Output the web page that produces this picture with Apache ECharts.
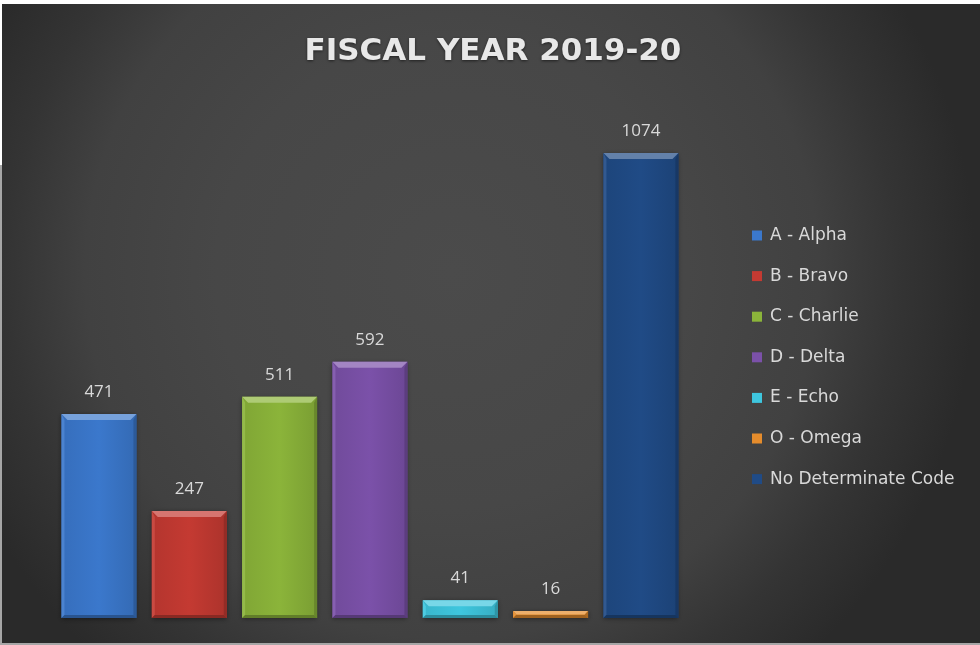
<!DOCTYPE html>
<html>
<head>
<meta charset="utf-8">
<script src="https://cdn.jsdelivr.net/npm/echarts@6/dist/echarts.min.js"></script>
<style>
  html, body { margin: 0; padding: 0; background: #ffffff; }
  #frame { position: absolute; left: 0; top: 0; width: 980px; height: 645px; background: #ffffff; }
  #edgeL { position: absolute; left: 0; top: 165px; width: 2px; height: 480px; background: #a6a6a6; }
  #edgeB { position: absolute; left: 0; top: 643px; width: 980px; height: 2px; background: #a6a6a6; }
  #chart { position: absolute; left: 2px; top: 4px; width: 978px; height: 639px; }
</style>
</head>
<body>
<div id="frame"></div>
<div id="chart"></div>
<div id="edgeL"></div>
<div id="edgeB"></div>
<script>
// Fiscal year 2019-20 counts per determinate code
const categories = ['A - Alpha', 'B - Bravo', 'C - Charlie', 'D - Delta', 'E - Echo', 'O - Omega', 'No Determinate Code'];
const counts = [471, 247, 511, 592, 41, 16, 1074];
const barColors = ['#3b78cc', '#c43a32', '#8bb43a', '#7b51a9', '#3ec6de', '#e58c2c', '#204b86'];

const chart = echarts.init(document.getElementById('chart'));

function shade(hex, amt) {
  const n = parseInt(hex.slice(1), 16);
  let r = (n >> 16) & 255, g = (n >> 8) & 255, b = n & 255;
  const f = c => Math.max(0, Math.min(255, Math.round(amt >= 0 ? c + (255 - c) * amt : c * (1 + amt))));
  return 'rgb(' + f(r) + ',' + f(g) + ',' + f(b) + ')';
}

// bevelled bar drawn from the category index and value through the axes
function bevelBar(color) {
  return function (params, api) {
    const idx = api.value(0);
    const val = api.value(1);
    const top = api.coord([idx, val]);
    const base = api.coord([idx, 0]);
    const w = api.size([1, 0])[0] * 0.83;
    const x0 = top[0] - w / 2, x1 = top[0] + w / 2;
    const y0 = top[1], y1 = base[1];
    const h = y1 - y0;
    const bt = Math.min(6, h / 2);
    const bs = Math.min(3, h / 2);
    return {
      type: 'group',
      children: [
        { type: 'rect', shape: { x: x0, y: y0, width: w, height: h },
          style: { fill: new echarts.graphic.LinearGradient(0, 0, 1, 0, [
            { offset: 0, color: shade(color, -0.08) },
            { offset: 0.5, color: color },
            { offset: 1, color: shade(color, -0.12) }
          ]), shadowColor: 'rgba(0,0,0,0.45)', shadowBlur: 5, shadowOffsetY: 1 } },
        { type: 'polygon', shape: { points: [[x0, y0], [x1, y0], [x1 - bt, y0 + bt], [x0 + bt, y0 + bt]] },
          style: { fill: shade(color, 0.3) } },
        { type: 'polygon', shape: { points: [[x0, y0], [x0 + bs, y0 + bt], [x0 + bs, y1 - bs], [x0, y1]] },
          style: { fill: shade(color, 0.08) } },
        { type: 'polygon', shape: { points: [[x1, y0], [x1 - bs, y0 + bt], [x1 - bs, y1 - bs], [x1, y1]] },
          style: { fill: shade(color, -0.25) } },
        { type: 'polygon', shape: { points: [[x0, y1], [x1, y1], [x1 - bs, y1 - bs], [x0 + bs, y1 - bs]] },
          style: { fill: shade(color, -0.3) } },
        { type: 'text', style: {
            text: String(val), x: top[0], y: y0 - 22, align: 'center', verticalAlign: 'middle',
            fill: '#d9d9d9', font: '17px "Open Sans", sans-serif' } }
      ]
    };
  };
}

const series = categories.map((name, i) => ({
  name: name,
  type: 'custom',
  itemStyle: { color: barColors[i] },
  renderItem: bevelBar(barColors[i]),
  encode: { x: 0, y: 1 },
  data: [[i, counts[i]]]
}));

chart.setOption({
  backgroundColor: new echarts.graphic.RadialGradient(0.46, 0.42, 0.82, [
    { offset: 0, color: '#4b4b4b' },
    { offset: 0.45, color: '#474747' },
    { offset: 0.7, color: '#414141' },
    { offset: 0.85, color: '#343434' },
    { offset: 1, color: '#2a2a2a' }
  ]),
  title: {
    text: 'FISCAL YEAR 2019-20',
    left: 486,
    textAlign: 'center',
    top: 27,
    textStyle: {
      color: '#e8e8e8', fontSize: 31, fontWeight: 'bold', fontFamily: '"DejaVu Sans", sans-serif',
      textShadowColor: 'rgba(0,0,0,0.55)', textShadowBlur: 3, textShadowOffsetY: 1
    }
  },
  legend: {
    orient: 'vertical',
    left: 750,
    top: 223,
    padding: 0,
    icon: 'rect',
    itemWidth: 10,
    itemHeight: 10,
    itemGap: 23.6,
    textStyle: { color: '#d9d9d9', fontSize: 17, lineHeight: 16, padding: [0, 0, 0, 3], fontFamily: '"DejaVu Sans", sans-serif' },
    data: categories
  },
  grid: { left: 51.8, width: 632.3, top: 94.4, bottom: 25 },
  xAxis: { type: 'category', data: categories, show: false },
  yAxis: { type: 'value', min: 0, max: 1200, show: false },
  series: series
});
</script>
</body>
</html>
